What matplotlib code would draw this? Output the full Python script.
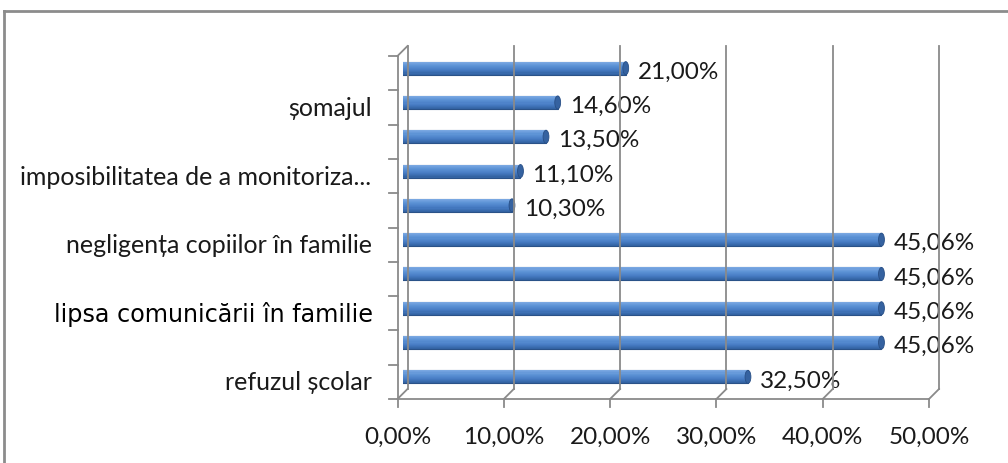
import matplotlib
matplotlib.use("Agg")
import matplotlib.pyplot as plt
import matplotlib.transforms as mtransforms
from matplotlib.lines import Line2D
from matplotlib.patches import Ellipse
from matplotlib.colors import to_rgb
import numpy as np

# data, top row first
categories = ["", "șomajul", "", "imposibilitatea de a monitoriza...", "",
              "negligența copiilor în familie", "", "lipsa comunicării în familie", "",
              "refuzul școlar"]
values = [21.00, 14.60, 13.50, 11.10, 10.30, 45.06, 45.06, 45.06, 45.06, 32.50]
x_ticks = [0, 10, 20, 30, 40, 50]
x_tick_labels = ["0,00%", "10,00%", "20,00%", "30,00%", "40,00%", "50,00%"]

plt.rcParams['font.family'] = ['Lato', 'DejaVu Sans']
txt_color = "#1a1a1a"
grid_color = "#8a8a8a"
fs = 17.5

W, H = 1008, 464
fig = plt.figure(figsize=(W / 100, H / 100), dpi=100)

# axes = the middle depth plane of the 3d box
ax = fig.add_axes([402.5 / W, (H - 395) / H, 531.5 / W, 343 / H])
ax.set_xlim(0, 50)
ax.set_ylim(9.5, -0.5)
ax.axis('off')

depth = 5
back = mtransforms.offset_copy(ax.transData, fig=fig, x=depth, y=depth, units='dots')
front = mtransforms.offset_copy(ax.transData, fig=fig, x=-depth, y=-depth, units='dots')
ident = mtransforms.IdentityTransform()


def seg(p, q, **kw):
    fig.add_artist(Line2D([p[0], q[0]], [p[1], q[1]], transform=ident,
                          color=grid_color, lw=1.3, **kw))


y_lo, y_hi = 9.5, -0.5
# back wall gridlines and floor diagonals
for t in x_ticks:
    b0 = back.transform((t, y_lo))
    b1 = back.transform((t, y_hi))
    f0 = front.transform((t, y_lo))
    seg(b0, b1)
    seg(f0, b0)
    seg(f0, (f0[0], f0[1] - 8))

# front axes lines
f00 = front.transform((0, y_lo))
f50 = front.transform((50, y_lo))
ftop = front.transform((0, y_hi))
seg(f00, f50)
seg(f00, ftop)
seg(ftop, back.transform((0, y_hi)))
for k in range(len(categories) + 1):
    p = front.transform((0, k - 0.5))
    seg(p, (p[0] - 9, p[1]))

# bars, shaded like a cylinder (light on top, dark at bottom)
ypos = np.arange(len(values))
vals = np.array(values)
bh = 0.38
shade = [(0.0, "#7eaae3"), (0.3, "#5d93d6"), (0.65, "#477cc4"), (1.0, "#30609f")]
n = 12
bar_left = -0.3  # bars begin a little in front of the 0 plane
ax.barh(ypos, vals - bar_left, height=bh, left=bar_left, color="#30609f",
        edgecolor="#2a5288", lw=0.8, zorder=3)
for i in range(n):
    f = (i + 0.5) / n
    c = np.array([np.interp(f, [s[0] for s in shade], [to_rgb(s[1])[j] for s in shade])
                  for j in range(3)])
    ax.barh(ypos - bh / 2 + bh * (i + 0.5) / n, vals - bar_left, left=bar_left,
            height=bh / n * 1.05, color=c, lw=0, zorder=4)
for y, v in zip(ypos, values):
    ax.add_patch(Ellipse((v, y), width=0.55, height=bh, facecolor="#3562a0",
                         edgecolor="#284f86", lw=0.6, zorder=6))
    ax.annotate(f"{v:.2f}".replace('.', ',') + "%", xy=(v, y), xytext=(12, -3),
                textcoords='offset pixels', ha='left', va='center',
                fontsize=fs, color=txt_color)

# category labels on the front plane
for y, lab in enumerate(categories):
    if not lab:
        continue
    if lab.startswith("lipsa"):
        ax.annotate(lab, xy=(0, y), xycoords=front, xytext=(-25, 0),
                    textcoords='offset pixels', ha='right', va='center',
                    fontsize=17.2, color="#000000", family='DejaVu Sans')
    else:
        ax.annotate(lab, xy=(0, y), xycoords=front, xytext=(-26, 0),
                    textcoords='offset pixels', ha='right', va='center',
                    fontsize=18, color=txt_color)

for t, lab in zip(x_ticks, x_tick_labels):
    ax.annotate(lab, xy=(t, y_lo), xycoords=front, xytext=(0, -37),
                textcoords='offset pixels', ha='center', va='center',
                fontsize=fs, color=txt_color)

# outer chart frame
fig.add_artist(Line2D([4 / W, 1], [1 - 12 / H, 1 - 12 / H], transform=fig.transFigure,
                      color="#8c8c8c", lw=2))
fig.add_artist(Line2D([4 / W, 4 / W], [0, 1 - 12 / H], transform=fig.transFigure,
                      color="#8c8c8c", lw=2))

fig.savefig("out.png", dpi=100)
